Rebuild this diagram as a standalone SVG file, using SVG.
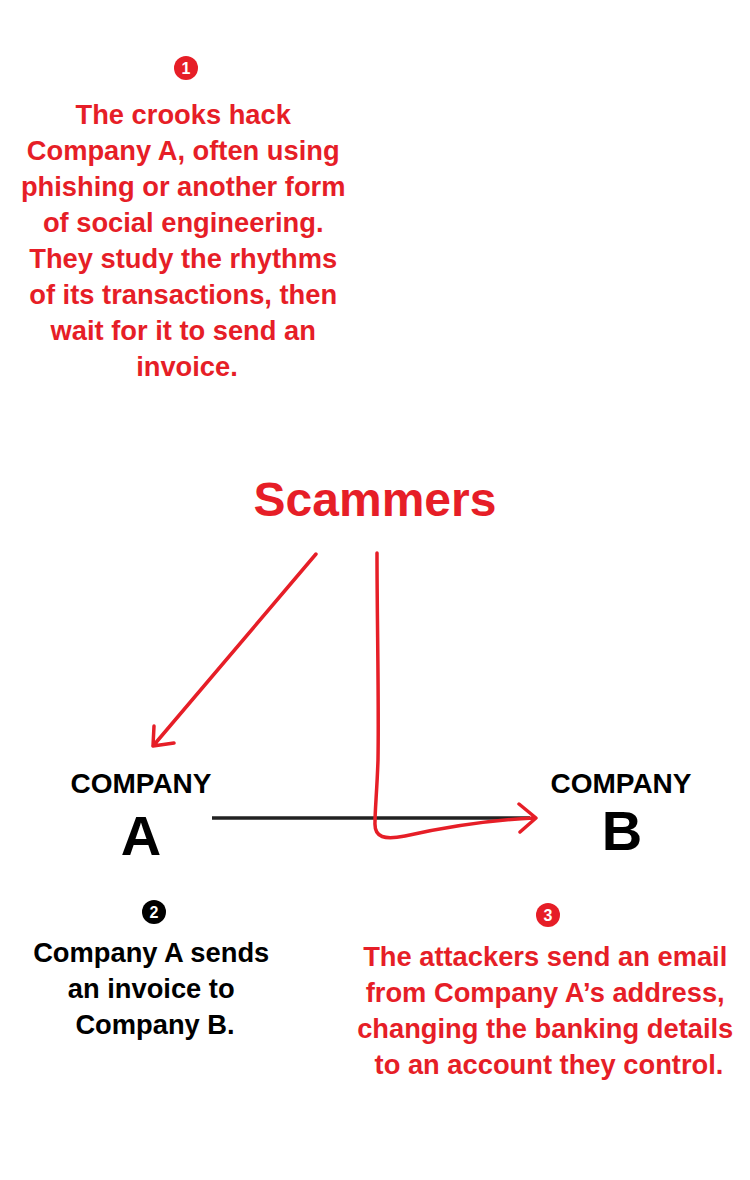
<svg xmlns="http://www.w3.org/2000/svg" width="750" height="1180" viewBox="0 0 750 1180">
<defs>
<style>
text{font-family:"Liberation Sans",Arial,sans-serif;font-weight:bold;text-anchor:middle}
.red{fill:#e61e27}
.blk{fill:#000}
.p{font-size:27.3px}
.num{font-size:16px;fill:#fff}
.lr{fill:none;stroke:#e61e27;stroke-width:3.5;stroke-linecap:round;stroke-linejoin:round}
.lb{fill:none;stroke:#222;stroke-width:3.5}
</style>
</defs>
<rect width="750" height="1180" fill="#fff"/>
<g id="step1">
<circle cx="186" cy="68" r="12" fill="#e61e27"/>
<text class="num" x="186" y="74">1</text>
<text class="p red" x="186">
<tspan x="187" y="124">The crooks hack</tspan>
<tspan x="187" y="160">Company A, often using</tspan>
<tspan x="187" y="196">phishing or another form</tspan>
<tspan x="187" y="232">of social engineering.</tspan>
<tspan x="187" y="268">They study the rhythms</tspan>
<tspan x="187" y="304">of its transactions, then</tspan>
<tspan x="187" y="340">wait for it to send an</tspan>
<tspan x="187" y="376">invoice.</tspan>
</text>
</g>
<g id="scammers">
<text class="red" x="375" y="516" style="font-size:48px">Scammers</text>
</g>
<g id="companyA">
<text class="blk" x="141" y="793" style="font-size:28px">COMPANY</text>
<text class="blk" x="141" y="855" style="font-size:56px">A</text>
</g>
<g id="companyB">
<text class="blk" x="621" y="793" style="font-size:28px">COMPANY</text>
<text class="blk" x="622" y="850" style="font-size:56px">B</text>
</g>
<g id="step2">
<circle cx="154" cy="912" r="12" fill="#000"/>
<text class="num" x="154" y="918">2</text>
<text class="p blk">
<tspan x="155" y="962">Company A sends</tspan>
<tspan x="155" y="998">an invoice to</tspan>
<tspan x="155" y="1034">Company B.</tspan>
</text>
</g>
<g id="step3">
<circle cx="548" cy="915" r="12" fill="#e61e27"/>
<text class="num" x="548" y="921">3</text>
<text class="p red">
<tspan x="549" y="966">The attackers send an email</tspan>
<tspan x="549" y="1002">from Company A’s address,</tspan>
<tspan x="549" y="1038">changing the banking details</tspan>
<tspan x="549" y="1074">to an account they control.</tspan>
</text>
</g>
<g id="connectors">
<line class="lb" x1="212" y1="818" x2="530" y2="818"/>
<path class="lr" d="M316,554 L153,746 M154,726 L153,746 L174,743"/>
<path class="lr" d="M377,553 C377,620 379,700 378,760 C377,790 375,810 375,822 C374,838 385,840 405,836 C450,826 490,820 534,818 M519,804 L536,818 L520,832"/>
</g>
</svg>
